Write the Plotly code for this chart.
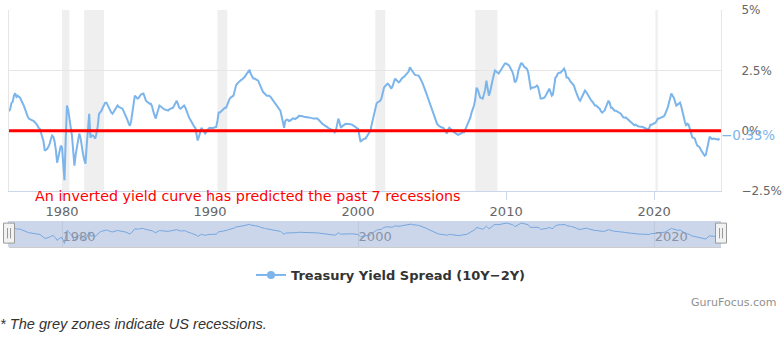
import plotly.graph_objects as go
import pandas as pd

# ---------------- data (monthly, % points) ----------------
first_month = "1976-06-01"
spread_1976_1979 = [
    0.80, 0.90, 1.15, 1.20, 1.45, 1.55, 1.40,
    1.45, 1.40, 1.37, 1.25, 1.10, 1.04, 0.90, 0.70, 0.60, 0.50, 0.48, 0.45,
    0.42, 0.40, 0.35, 0.30, 0.22, 0.12, 0.08, -0.10, -0.29, -0.45, -0.83, -0.80,
    -0.75, -0.65, -0.55, -0.35, -0.20, -0.25, -0.45, -0.80, -1.33, -1.10, -0.80, -0.62,
]
spread_1980s = [
    -0.70, -1.60, -2.05, -0.30, 1.04, 0.85, 0.40, 0.15, -0.20, -0.90, -1.45, -1.00,
    -0.62, -0.40, -0.12, -0.30, -0.70, -0.95, -1.20, -1.37, -0.60, 0.10, 0.70, -0.29,
    -0.20, -0.20, -0.25, -0.33, -0.10, 0.20, 0.70, 0.75, 0.83, 0.95, 1.10, 1.16,
    1.16, 1.05, 0.90, 0.80, 0.75, 0.70, 0.80, 0.90, 0.98, 1.04, 0.98, 0.95,
    0.93, 0.91, 0.80, 0.70, 0.60, 0.45, 0.30, 0.20, 0.40, 0.75, 1.10, 1.45,
    1.40, 1.33, 1.35, 1.45, 1.50, 1.52, 1.54, 1.40, 1.24, 1.20, 1.15, 1.12,
    1.12, 1.00, 0.80, 0.60, 0.50, 0.70, 0.90, 1.04, 1.00, 0.95, 0.91, 0.88,
    0.87, 0.85, 0.83, 0.88, 0.92, 0.93, 0.95, 1.05, 1.15, 1.24, 1.10, 0.95,
    0.91, 0.95, 1.00, 1.04, 0.95, 0.80, 0.65, 0.54, 0.45, 0.35, 0.25, 0.18,
    0.12, -0.10, -0.41, -0.25, 0.00, 0.12, 0.05, -0.05, -0.12, -0.05, 0.05, 0.10,
]
spread_1990s = [
    0.12, 0.10, 0.10, 0.12, 0.12, 0.15, 0.40, 0.75, 0.75, 0.80, 0.85, 0.90,
    0.95, 0.95, 1.10, 1.25, 1.33, 1.38, 1.42, 1.45, 1.65, 1.87, 1.95, 2.00,
    2.07, 2.10, 2.12, 2.16, 2.22, 2.30, 2.37, 2.45, 2.52, 2.35, 2.25, 2.16,
    2.16, 2.12, 2.10, 2.07, 1.95, 1.80, 1.66, 1.60, 1.55, 1.50, 1.45, 1.45,
    1.45, 1.40, 1.33, 1.30, 1.20, 1.10, 1.04, 1.00, 0.90, 0.83, 0.60, 0.30,
    0.12, 0.41, 0.45, 0.45, 0.40, 0.42, 0.48, 0.50, 0.50, 0.48, 0.52, 0.55,
    0.62, 0.62, 0.60, 0.60, 0.58, 0.58, 0.56, 0.55, 0.55, 0.54, 0.52, 0.50,
    0.50, 0.50, 0.50, 0.50, 0.45, 0.38, 0.33, 0.29, 0.25, 0.22, 0.20, 0.15,
    0.10, 0.08, 0.08, 0.03, 0.00, -0.07, 0.00, 0.20, 0.50, 0.35, 0.12, 0.18,
    0.20, 0.25, 0.29, 0.29, 0.30, 0.28, 0.27, 0.25, 0.22, 0.20, 0.15, 0.10,
]
spread_2000s = [
    0.08, -0.20, -0.46, -0.40, -0.35, -0.33, -0.33, -0.25, -0.15, -0.12, 0.00, 0.25,
    0.50, 0.70, 0.90, 1.12, 1.18, 1.22, 1.24, 1.35, 1.60, 1.78, 1.85, 1.92,
    1.95, 1.90, 1.80, 1.74, 1.85, 2.00, 2.16, 2.10, 2.05, 2.00, 2.05, 2.15,
    2.20, 2.22, 2.28, 2.35, 2.37, 2.45, 2.63, 2.55, 2.45, 2.37, 2.32, 2.30,
    2.28, 2.28, 2.20, 2.05, 2.00, 1.87, 1.75, 1.60, 1.45, 1.30, 1.15, 1.04,
    0.90, 0.70, 0.55, 0.38, 0.29, 0.22, 0.17, 0.15, 0.13, 0.12, 0.05, -0.02,
    -0.12, 0.05, 0.12, 0.08, 0.02, -0.03, -0.07, -0.10, -0.14, -0.17, -0.15, -0.12,
    -0.10, -0.07, -0.07, 0.05, 0.12, 0.25, 0.40, 0.54, 0.75, 0.90, 1.04, 1.30,
    1.78, 1.70, 1.55, 1.37, 1.35, 1.33, 1.50, 1.70, 2.07, 1.80, 1.45, 1.60,
    1.95, 2.10, 2.30, 2.49, 2.45, 2.40, 2.37, 2.45, 2.55, 2.65, 2.72, 2.78,
]
spread_2010s = [
    2.78, 2.75, 2.72, 2.65, 2.57, 2.45, 2.30, 2.00, 2.05, 2.20, 2.50, 2.70,
    2.78, 2.78, 2.70, 2.63, 2.60, 2.55, 2.40, 1.95, 1.74, 1.78, 1.78, 1.80,
    1.82, 1.87, 1.80, 1.60, 1.33, 1.33, 1.35, 1.37, 1.45, 1.55, 1.65, 1.74,
    1.60, 1.45, 1.50, 1.80, 2.20, 2.25, 2.37, 2.40, 2.40, 2.45, 2.50, 2.57,
    2.45, 2.20, 2.20, 2.15, 2.05, 2.00, 1.95, 1.87, 1.70, 1.55, 1.40, 1.30,
    1.24, 1.35, 1.45, 1.55, 1.66, 1.60, 1.50, 1.40, 1.33, 1.25, 1.20, 1.10,
    1.04, 1.04, 1.00, 0.95, 0.90, 0.80, 0.75, 0.80, 0.85, 1.00, 1.15, 1.24,
    1.15, 0.95, 0.95, 0.90, 0.83, 0.83, 0.80, 0.75, 0.72, 0.70, 0.62, 0.55,
    0.54, 0.55, 0.50, 0.45, 0.40, 0.35, 0.29, 0.25, 0.22, 0.25, 0.20, 0.18,
    0.17, 0.17, 0.17, 0.15, 0.12, 0.10, 0.08, 0.05, 0.10, 0.25, 0.25, 0.28,
]
spread_2020s = [
    0.30, 0.33, 0.40, 0.50, 0.50, 0.52, 0.54, 0.56, 0.60, 0.70, 0.80, 0.95,
    1.16, 1.35, 1.54, 1.45, 1.37, 1.20, 1.04, 1.08, 1.12, 1.16, 1.00, 0.75,
    0.60, 0.35, 0.20, 0.29, 0.25, 0.05, -0.20, -0.28, -0.30, -0.33, -0.50, -0.62,
    -0.65, -0.70, -0.80, -0.90, -0.95, -1.04, -1.00, -0.70, -0.50, -0.25, -0.30, -0.35,
    -0.33, -0.34, -0.35, -0.37, -0.37, -0.33,
]

recession_start = ["1980-01-01", "1981-07-01", "1990-07-01", "2001-03-01", "2007-12-01", "2020-02-01"]
recession_end = ["1980-07-01", "1982-11-01", "1991-03-01", "2001-11-01", "2009-06-01", "2020-04-01"]

series_name = "Treasury Yield Spread (10Y\u22122Y)"
note_text = "An inverted yield curve has predicted the past 7 recessions"
footnote = "* The grey zones indicate US recessions."
credit = "GuruFocus.com"
x_end = "2024-07-08"

spread = spread_1976_1979 + spread_1980s + spread_1990s + spread_2000s + spread_2010s + spread_2020s
dates = pd.date_range(first_month, periods=len(spread), freq="MS")

# ---------------- geometry helpers (pixels -> paper) ----------------
W, H = 782, 362
ML, MR, MT, MB = 9, 61, 10, 115
PW = W - ML - MR
PH = H - MT - MB
def px_x(px):
    return (px - ML) / PW
def px_y(py):
    return (H - MB - py) / PH

FONT = "DejaVu Sans"
LINE_BLUE = "#7cb5ec"

fig = go.Figure()
fig.add_trace(go.Scatter(x=dates, y=spread, mode="lines", xaxis="x", yaxis="y",
                         line=dict(color=LINE_BLUE, width=2), showlegend=False, hoverinfo="skip"))
fig.add_trace(go.Scatter(x=dates, y=spread, mode="lines", xaxis="x2", yaxis="y2",
                         line=dict(color="#75a7df", width=1), showlegend=False, hoverinfo="skip"))
fig.add_trace(go.Scatter(x=[None], y=[None], mode="lines+markers", name=series_name,
                         xaxis="x", yaxis="y",
                         line=dict(color=LINE_BLUE, width=2), marker=dict(color=LINE_BLUE, size=8)))

shapes = []
for s, e in zip(recession_start, recession_end):
    shapes.append(dict(type="rect", xref="x", yref="y domain", x0=s, x1=e, y0=0, y1=1,
                       fillcolor="#efefef", line=dict(width=0), layer="below"))
shapes.append(dict(type="line", xref="x domain", yref="y", x0=0, x1=1, y0=0, y1=0,
                   line=dict(color="#ff0000", width=3), layer="above"))
# navigator background
shapes.append(dict(type="rect", xref="x2 domain", yref="y2 domain", x0=-0.0015, x1=1, y0=0, y1=1,
                   fillcolor="#ccd6eb", line=dict(width=0), layer="below"))
# navigator handles
hw = 5.5 / PW
for cx in (0.0, 1.0):
    shapes.append(dict(type="rect", xref="x2 domain", yref="y2 domain",
                       x0=cx - hw, x1=cx + hw, y0=0.15, y1=0.92,
                       fillcolor="#f2f2f2", line=dict(color="#999999", width=1), layer="above"))
    for dx in (-1.5 / PW, 1.5 / PW):
        shapes.append(dict(type="line", xref="x2 domain", yref="y2 domain",
                           x0=cx + dx, x1=cx + dx, y0=0.33, y1=0.73,
                           line=dict(color="#999999", width=1), layer="above"))

last_label = f"{spread[-1]:.2f}%".replace("-", "\u2212")
annotations = [
    dict(text=note_text, xref="paper", yref="paper", x=px_x(33), y=px_y(195.5),
         xanchor="left", yanchor="middle", showarrow=False,
         font=dict(family=FONT, size=14.3, color="#ff0000")),
    dict(text=last_label, xref="paper", yref="y", x=1, y=spread[-1], xshift=-2, yshift=4,
         xanchor="left", yanchor="middle", showarrow=False,
         font=dict(family=FONT, size=13.5, color=LINE_BLUE)),
    dict(text=credit, xref="paper", yref="paper", x=px_x(778), y=px_y(302.5),
         xanchor="right", yanchor="middle", showarrow=False,
         font=dict(family=FONT, size=11, color="#909090")),
    dict(text="<i>" + footnote + "</i>", xref="paper", yref="paper", x=px_x(-2), y=px_y(324),
         xanchor="left", yanchor="middle", showarrow=False,
         font=dict(family="Liberation Sans", size=14.6, color="#333333")),
]

fig.update_layout(
    width=W, height=H,
    margin=dict(l=ML, r=MR, t=MT, b=MB, autoexpand=False),
    paper_bgcolor="white", plot_bgcolor="white",
    hovermode=False,
    font=dict(family=FONT, color="#666666"),
    xaxis=dict(domain=[0, 1], anchor="y", type="date", range=[first_month, x_end],
               automargin=False,
               dtick="M120", tick0="1980-01-01", tickformat="%Y",
               showgrid=False, zeroline=False, showline=True, linecolor="#ccd6eb", linewidth=1,
               ticks="outside", ticklen=8, tickcolor="#ccd6eb",
               tickfont=dict(family=FONT, size=13, color="#666666")),
    yaxis=dict(domain=[px_y(191), 1], anchor="x", range=[-2.5, 5], dtick=2.5, side="right",
               automargin=False,
               ticksuffix="%", showgrid=True, gridcolor="#e6e6e6", zeroline=False,
               showline=True, mirror=True, linecolor="#e6e6e6", ticks="",
               ticklabelstandoff=17,
               tickfont=dict(family=FONT, size=12, color="#666666")),
    xaxis2=dict(domain=[0, 1], anchor="y2", type="date", range=[first_month, x_end],
                automargin=False,
                dtick="M240", tick0="1980-01-01", tickformat="%Y",
                showgrid=True, gridcolor="#c0c9db", zeroline=False,
                showline=True, linecolor="#cccccc", ticks="",
                ticklabelposition="inside right",
                tickfont=dict(family=FONT, size=13, color="#8a93a5")),
    yaxis2=dict(domain=[0, px_y(221)], anchor="x2", range=[-2.9, 3.3], visible=False,
                fixedrange=True, automargin=False),
    showlegend=True,
    legend=dict(orientation="h", x=px_x(391), xanchor="center", y=px_y(275), yanchor="middle",
                font=dict(family=FONT, size=13, color="#333333", weight="bold"),
                bgcolor="rgba(0,0,0,0)"),
    shapes=shapes,
    annotations=annotations,
)

fig.write_html("out.html",
               config={"displayModeBar": False, "staticPlot": True},
               post_script="document.body.style.margin='0px';document.body.style.padding='0px';")
